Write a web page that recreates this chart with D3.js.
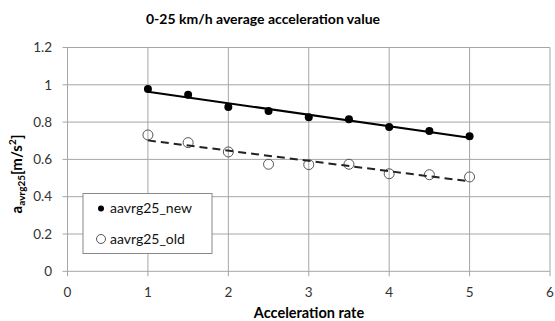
<!DOCTYPE html>
<html>
<head>
<meta charset="utf-8">
<script src="https://cdn.jsdelivr.net/npm/d3@7.9.0/dist/d3.min.js"></script>
<style>
  body { margin: 0; background: #fff; }
  svg { display: block; font-family: Lato, "Open Sans", sans-serif; }
</style>
</head>
<body>
<svg id="chart" width="555" height="321"></svg>
<script>
// Acceleration rate (x) and average acceleration values
const rates = [1, 1.5, 2, 2.5, 3, 3.5, 4, 4.5, 5];
const newValues = [0.977, 0.947, 0.881, 0.86, 0.826, 0.815, 0.774, 0.752, 0.724];
const oldValues = [0.731, 0.69, 0.64, 0.574, 0.572, 0.574, 0.523, 0.518, 0.506];
const xTicks = [0, 1, 2, 3, 4, 5, 6];
const yTicks = [0, 0.2, 0.4, 0.6, 0.8, 1, 1.2];
const seriesNames = ['aavrg25_new', 'aavrg25_old'];

const svg = d3.select('#chart');

// Plot area
const x = d3.scaleLinear().domain([0, 6]).range([67.5, 550]);
const y = d3.scaleLinear().domain([0, 1.2]).range([271.3, 47.5]);

const gridColor = '#a6a6a6';

// Gridlines
svg.append('g')
  .selectAll('line')
  .data(yTicks)
  .join('line')
  .attr('x1', x(0) - 5).attr('x2', x(6))
  .attr('y1', d => y(d)).attr('y2', d => y(d))
  .attr('stroke', gridColor).attr('stroke-width', 1);

svg.append('g')
  .selectAll('line')
  .data(xTicks)
  .join('line')
  .attr('x1', d => x(d)).attr('x2', d => x(d))
  .attr('y1', y(1.2)).attr('y2', y(0) + 5)
  .attr('stroke', gridColor).attr('stroke-width', 1);

// Tick labels
svg.append('g')
  .selectAll('text')
  .data(yTicks)
  .join('text')
  .attr('x', 52).attr('y', d => y(d))
  .attr('dy', '0.35em')
  .attr('text-anchor', 'end')
  .attr('font-size', 13.5)
  .attr('fill', '#333')
  .text(d => d3.format('')(d));

svg.append('g')
  .selectAll('text')
  .data(xTicks)
  .join('text')
  .attr('x', d => x(d)).attr('y', 292)
  .attr('dy', '0.35em')
  .attr('text-anchor', 'middle')
  .attr('font-size', 13.5)
  .attr('fill', '#333')
  .text(d => d);

// Title and axis titles
svg.append('text')
  .attr('x', 263).attr('y', 24)
  .attr('text-anchor', 'middle')
  .attr('font-size', 14).attr('font-weight', 'bold')
  .text('0-25 km/h average acceleration value');

svg.append('text')
  .attr('x', 309).attr('y', 318)
  .attr('text-anchor', 'middle')
  .attr('font-size', 14.5).attr('font-weight', 'bold')
  .text('Acceleration rate');

const yTitle = svg.append('text')
  .attr('transform', 'translate(22,174) rotate(-90)')
  .attr('text-anchor', 'middle')
  .attr('font-size', 15).attr('font-weight', 'bold');
yTitle.append('tspan').text('a');
yTitle.append('tspan').attr('font-size', 10).attr('dy', 3).text('avrg25');
yTitle.append('tspan').attr('dy', -3).text('[m/s');
yTitle.append('tspan').attr('font-size', 10).attr('dy', -6).text('2');
yTitle.append('tspan').attr('dy', 6).text(']');

// Markers
const newPts = rates.map((r, i) => [r, newValues[i]]);
const oldPts = rates.map((r, i) => [r, oldValues[i]]);

svg.append('g')
  .selectAll('circle')
  .data(newPts)
  .join('circle')
  .attr('cx', d => x(d[0])).attr('cy', d => y(d[1]))
  .attr('r', 4).attr('fill', '#000');

svg.append('g')
  .selectAll('circle')
  .data(oldPts)
  .join('circle')
  .attr('cx', d => x(d[0])).attr('cy', d => y(d[1]))
  .attr('r', 5).attr('fill', 'none')
  .attr('stroke', '#555').attr('stroke-width', 1);

// Linear trendlines (least squares, as Excel draws them)
function fit(pts) {
  const mx = d3.mean(pts, d => d[0]);
  const my = d3.mean(pts, d => d[1]);
  const slope = d3.sum(pts, d => (d[0] - mx) * (d[1] - my)) /
    d3.sum(pts, d => (d[0] - mx) ** 2);
  const x0 = d3.min(pts, d => d[0]);
  const x1 = d3.max(pts, d => d[0]);
  return [[x0, my + slope * (x0 - mx)], [x1, my + slope * (x1 - mx)]];
}

const line = d3.line().x(d => x(d[0])).y(d => y(d[1]));

svg.append('path')
  .attr('d', line(fit(newPts)))
  .attr('fill', 'none').attr('stroke', '#000').attr('stroke-width', 2);

svg.append('path')
  .attr('d', line(fit(oldPts)))
  .attr('fill', 'none').attr('stroke', '#222').attr('stroke-width', 2)
  .attr('stroke-dasharray', '8,5');

// Legend
const legend = svg.append('g');
legend.append('rect')
  .attr('x', 83).attr('y', 193.5).attr('width', 129).attr('height', 60)
  .attr('fill', '#fff').attr('stroke', '#888').attr('stroke-width', 1);

legend.append('circle').attr('cx', 101).attr('cy', 208.5).attr('r', 3).attr('fill', '#000');
legend.append('circle').attr('cx', 101).attr('cy', 239).attr('r', 4.5)
  .attr('fill', 'none').attr('stroke', '#555');

legend.selectAll('text')
  .data(seriesNames)
  .join('text')
  .attr('x', 110).attr('y', (d, i) => 208.5 + i * 30.5)
  .attr('dy', '0.35em')
  .attr('font-size', 14)
  .attr('fill', '#111')
  .text(d => d);
</script>
</body>
</html>
